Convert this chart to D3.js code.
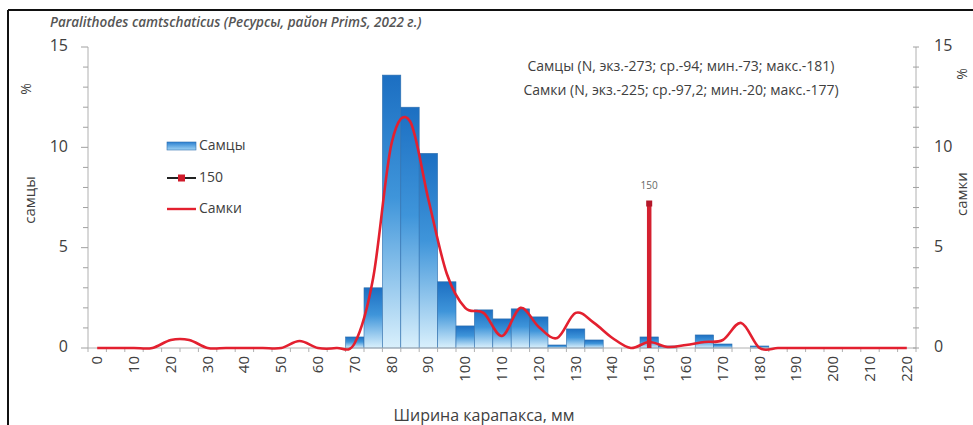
<!DOCTYPE html>
<html>
<head>
<meta charset="utf-8">
<script src="https://cdn.jsdelivr.net/npm/d3@7"></script>
<style>
  html, body { margin: 0; padding: 0; background: #fff; }
  svg { display: block; font-family: "Open Sans", "DejaVu Sans", sans-serif; }
</style>
</head>
<body>
<svg id="chart" width="973" height="425"></svg>
<script>
// ---------------- data ----------------
const categories = [0,5,10,15,20,25,30,35,40,45,50,55,60,65,70,75,80,85,90,95,100,105,110,115,120,125,130,135,140,145,150,155,160,165,170,175,180,185,190,195,200,205,210,215,220];
const xTickLabels = [0,10,20,30,40,50,60,70,80,90,100,110,120,130,140,150,160,170,180,190,200,210,220];
const yTickLabels = [0,5,10,15];
// Самцы (bars), %
const males   = [0,0,0,0,0,0,0,0,0,0,0,0,0,0,0.55,3.0,13.6,12.0,9.7,3.3,1.1,1.9,1.45,1.95,1.55,0.15,0.95,0.4,0,0,0.55,0.1,0,0.65,0.2,0,0.1,0,0,0,0,0,0,0,0];
// Самки (smoothed line, right axis), %
const females = [0,0,0,0,0.4,0.4,0,0,0,0,0,0.35,0,0,0.25,3.5,10.2,11.3,7.4,3.7,2.0,1.75,0.6,2.0,1.05,0.5,1.75,1.25,0.5,0,0.3,0.05,0.15,0.3,0.4,1.25,0,0,0,0,0,0,0,0,0];
// "150" marker series
const markerCategory = [150];
const markerValue = [7.3];
const markerLabel = ["150"];

const titleText = "Paralithodes camtschaticus (Ресурсы, район PrimS, 2022 г.)";
const infoLines = ["Самцы (N, экз.-273; ср.-94; мин.-73; макс.-181)",
                   "Самки (N, экз.-225; ср.-97,2; мин.-20; макс.-177)"];
const legendNames = ["Самцы", "150", "Самки"];

// ---------------- layout ----------------
const svg = d3.select("#chart");
const plotL = 88, plotR = 916, plotT = 47, plotB = 348;

const x = d3.scaleBand().domain(categories).range([plotL, plotR]).padding(0);
const y = d3.scaleLinear().domain([0, 15]).range([plotB, plotT]);
const y2 = d3.scaleLinear().domain([0, 15]).range([plotB, plotT]);
const bw = x.bandwidth();

// frame
svg.append("line").attr("x1", 8).attr("x2", 973).attr("y1", 10).attr("y2", 10).attr("stroke", "#111").attr("stroke-width", 2);
svg.append("line").attr("x1", 8).attr("x2", 8).attr("y1", 10).attr("y2", 425).attr("stroke", "#111").attr("stroke-width", 2);

// gradient
const defs = svg.append("defs");
const grad = defs.append("linearGradient").attr("id", "barGrad").attr("x1", 0).attr("y1", 0).attr("x2", 0).attr("y2", 1);
grad.append("stop").attr("offset", "0%").attr("stop-color", "#1c6fc2");
grad.append("stop").attr("offset", "45%").attr("stop-color", "#3f95da");
grad.append("stop").attr("offset", "100%").attr("stop-color", "#d9f0fc");
const gradH = defs.append("linearGradient").attr("id", "legGrad").attr("x1", 0).attr("y1", 0).attr("x2", 0).attr("y2", 1);
gradH.append("stop").attr("offset", "0%").attr("stop-color", "#2a7fd0");
gradH.append("stop").attr("offset", "100%").attr("stop-color", "#9fd3f5");

// title
svg.append("text").attr("x", 50).attr("y", 27).attr("font-size", 13.5).attr("font-style", "italic")
  .attr("fill", "#555").attr("font-weight", 600).text(titleText);

// bars
svg.append("g").selectAll("rect").data(categories.map((c, i) => ({c, v: males[i]})).filter(d => d.v > 0))
  .join("rect")
  .attr("x", d => x(d.c)).attr("width", bw)
  .attr("y", d => y(d.v)).attr("height", d => y(0) - y(d.v))
  .attr("fill", "url(#barGrad)")
  .attr("stroke", "#2f6fae").attr("stroke-width", 0.6);

// x axis
const xAxisG = svg.append("g");
xAxisG.append("line").attr("x1", plotL).attr("x2", plotR).attr("y1", plotB).attr("y2", plotB).attr("stroke", "#b0b0b0").attr("stroke-width", 1);
xAxisG.selectAll("line.tick").data(categories.concat(["end"]))
  .join("line").attr("class", "tick")
  .attr("x1", (d, i) => plotL + i * bw).attr("x2", (d, i) => plotL + i * bw)
  .attr("y1", plotB).attr("y2", plotB + 4).attr("stroke", "#b0b0b0");
xAxisG.selectAll("text").data(xTickLabels).join("text")
  .attr("transform", d => `translate(${x(d) + bw / 2 + 1},${plotB + 8}) rotate(-90)`)
  .attr("text-anchor", "end").attr("dominant-baseline", "middle")
  .attr("font-size", 15).attr("fill", "#404040").text(d => d);

// left y axis
const yl = svg.append("g");
yl.append("line").attr("x1", plotL).attr("x2", plotL).attr("y1", plotT).attr("y2", plotB).attr("stroke", "#b0b0b0");
yl.selectAll("line.tick").data(d3.range(0, 16)).join("line").attr("class", "tick")
  .attr("x1", d => plotL - (d % 5 === 0 ? 7 : 5)).attr("x2", plotL)
  .attr("y1", d => y(d)).attr("y2", d => y(d)).attr("stroke", "#a0a0a0");
yl.selectAll("text").data(yTickLabels).join("text")
  .attr("x", 68).attr("y", d => y(d)).attr("text-anchor", "end").attr("dominant-baseline", "middle")
  .attr("font-size", 16).attr("fill", "#404040").text(d => d);

// right y axis
const yr = svg.append("g");
yr.append("line").attr("x1", plotR).attr("x2", plotR).attr("y1", plotT).attr("y2", plotB).attr("stroke", "#b0b0b0");
yr.selectAll("line.tick").data(d3.range(0, 16)).join("line").attr("class", "tick")
  .attr("x1", plotR - 3).attr("x2", plotR + 3)
  .attr("y1", d => y2(d)).attr("y2", d => y2(d)).attr("stroke", "#a0a0a0");
yr.selectAll("text").data(yTickLabels).join("text")
  .attr("x", 934).attr("y", d => y2(d)).attr("text-anchor", "start").attr("dominant-baseline", "middle")
  .attr("font-size", 16).attr("fill", "#404040").text(d => d);

// axis titles
svg.append("text").attr("transform", "translate(31,200) rotate(-90)").attr("text-anchor", "middle")
  .attr("dominant-baseline", "middle").attr("font-size", 15).attr("fill", "#404040").text("самцы");
svg.append("text").attr("transform", "translate(27,89) rotate(-90)").attr("text-anchor", "middle")
  .attr("dominant-baseline", "middle").attr("font-size", 14).attr("fill", "#404040").text("%");
svg.append("text").attr("transform", "translate(963,194) rotate(-90)").attr("text-anchor", "middle")
  .attr("dominant-baseline", "middle").attr("font-size", 15).attr("fill", "#404040").text("самки");
svg.append("text").attr("transform", "translate(963,74) rotate(-90)").attr("text-anchor", "middle")
  .attr("dominant-baseline", "middle").attr("font-size", 14).attr("fill", "#404040").text("%");
svg.append("text").attr("x", 484).attr("y", 421).attr("text-anchor", "middle")
  .attr("font-size", 16).attr("fill", "#404040").text("Ширина карапакса, мм");

// females line
const line = d3.line()
  .x(d => x(d.c) + bw / 2)
  .y(d => y2(d.v))
  .curve(d3.curveCatmullRom.alpha(0));
svg.append("path").datum(categories.map((c, i) => ({c, v: females[i]})))
  .attr("d", line).attr("fill", "none").attr("stroke", "#e3202f").attr("stroke-width", 2.6);

// "150" marker
const mk = svg.append("g");
markerCategory.forEach((c, i) => {
  const cx = x(c) + bw / 2;
  mk.append("line").attr("x1", cx).attr("x2", cx).attr("y1", y(0)).attr("y2", y(markerValue[i]))
    .attr("stroke", "#d42030").attr("stroke-width", 4.5);
  mk.append("rect").attr("x", cx - 3).attr("y", y(markerValue[i]) - 1).attr("width", 6).attr("height", 6)
    .attr("fill", "#b3182a");
  mk.append("text").attr("x", cx).attr("y", y(markerValue[i]) - 13).attr("text-anchor", "middle")
    .attr("font-size", 10).attr("fill", "#666").text(markerLabel[i]);
});

// info text
svg.selectAll("text.info").data(infoLines).join("text").attr("class", "info")
  .attr("x", 681).attr("y", (d, i) => 71 + i * 24).attr("text-anchor", "middle")
  .attr("font-size", 14).attr("fill", "#404040").text(d => d);

// legend
const lg = svg.append("g");
const legY = [146, 178, 209];
lg.append("rect").attr("x", 167).attr("y", legY[0] - 4).attr("width", 29).attr("height", 8)
  .attr("fill", "url(#legGrad)").attr("stroke", "#2f6fae").attr("stroke-width", 0.6);
lg.append("line").attr("x1", 167).attr("x2", 196).attr("y1", legY[1]).attr("y2", legY[1]).attr("stroke", "#222").attr("stroke-width", 2);
lg.append("rect").attr("x", 178).attr("y", legY[1] - 3.5).attr("width", 7).attr("height", 7).attr("fill", "#d01a2a");
lg.append("line").attr("x1", 167).attr("x2", 196).attr("y1", legY[2]).attr("y2", legY[2]).attr("stroke", "#e3202f").attr("stroke-width", 2.4);
lg.selectAll("text").data(legendNames).join("text")
  .attr("x", 199).attr("y", (d, i) => legY[i]).attr("dominant-baseline", "middle")
  .attr("font-size", 14).attr("fill", "#404040").text(d => d);
</script>
</body>
</html>
